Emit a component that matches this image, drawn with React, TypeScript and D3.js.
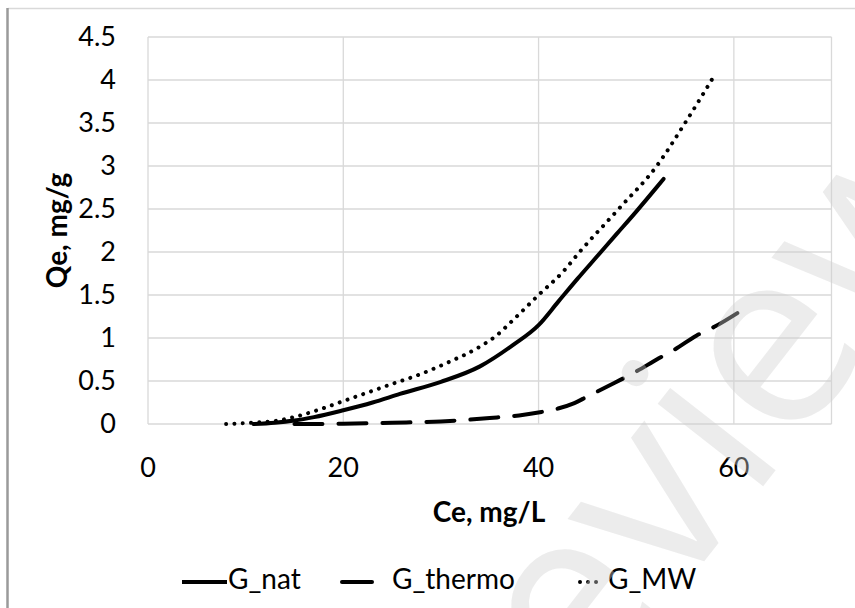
import React from 'react';
import * as d3 from 'd3';

const xTicks = [0, 20, 40, 60];
const yTicks = [0, 0.5, 1, 1.5, 2, 2.5, 3, 3.5, 4, 4.5];

const natX = [10.8, 13, 15, 17, 20, 23, 25.8, 30, 34, 37.4, 40, 42, 44, 46, 48, 50, 52, 52.8];
const natY = [0, 0.015, 0.04, 0.08, 0.16, 0.25, 0.35, 0.49, 0.67, 0.92, 1.15, 1.42, 1.69, 1.95, 2.21, 2.47, 2.74, 2.85];

const thermoX = [15, 20, 25, 30, 35, 38, 40.3, 42, 43.6, 45, 47.8, 50, 52.1, 54, 56.2, 58, 60.5];
const thermoY = [0, 0.003, 0.015, 0.03, 0.07, 0.1, 0.14, 0.18, 0.24, 0.32, 0.48, 0.61, 0.75, 0.87, 1.03, 1.13, 1.3];

const mwX = [8, 10.7, 13.3, 15.1, 17.6, 20.1, 22.6, 25.1, 27.2, 30.6, 34, 35.7, 37.4, 40, 42.5, 44.2, 48.2, 52.1, 55, 58.1];
const mwY = [0, 0.015, 0.04, 0.085, 0.17, 0.27, 0.37, 0.47, 0.55, 0.71, 0.9, 1.03, 1.21, 1.5, 1.77, 2.0, 2.5, 3.0, 3.5, 4.07];

const seriesNames = ['G_nat', 'G_thermo', 'G_MW'];

const W = 855;
const H = 608;
const FONT = 'Lato, "Open Sans", sans-serif';

export default function App() {
  const x = d3.scaleLinear().domain([0, 70]).range([148, 831.5]);
  const y = d3.scaleLinear().domain([0, 4.5]).range([424, 37]);
  const line = d3
    .line<[number, number]>()
    .x((d) => x(d[0]))
    .y((d) => y(d[1]))
    .curve(d3.curveMonotoneX);

  const zip = (a: number[], b: number[]) => a.map((v, i) => [v, b[i]] as [number, number]);

  const styles = [
    { dash: undefined as string | undefined, width: 4, cap: 'round' },
    { dash: '28 16', width: 4, cap: 'round' },
    { dash: '0.01 8.3', width: 4, cap: 'round' },
  ];
  const data = [zip(natX, natY), zip(thermoX, thermoY), zip(mwX, mwY)];

  const legend = [
    { x1: 182, x2: 227, tx: 228, dash: undefined as string | undefined },
    { x1: 342, x2: 372, tx: 392, dash: undefined },
    { x1: 580, x2: 603, tx: 608, dash: '0.01 8' },
  ];

  return (
    <svg
      width={W}
      height={H}
      style={{ position: 'absolute', left: 0, top: 0, background: '#fff' }}
      fontFamily={FONT}
    >
      <rect x={0} y={0} width={W} height={H} fill="#fff" />
      {/* frame */}
      <line x1={8} x2={W} y1={8.5} y2={8.5} stroke="#d9d9d9" strokeWidth={1.5} />
      <line x1={7.5} x2={7.5} y1={8} y2={H} stroke="#9a9a9a" strokeWidth={2.5} />

      {/* gridlines */}
      {yTicks.map((t) => (
        <line key={'gy' + t} x1={x(0)} x2={x(70)} y1={y(t)} y2={y(t)} stroke="#d9d9d9" strokeWidth={1.3} />
      ))}
      {[...xTicks, 70].map((t) => (
        <line key={'gx' + t} x1={x(t)} x2={x(t)} y1={y(0)} y2={y(4.5)} stroke="#d9d9d9" strokeWidth={1.3} />
      ))}

      {/* tick labels */}
      {yTicks.map((t) => (
        <text key={'ty' + t} x={116} y={y(t) + 9} textAnchor="end" fontSize={27} fill="#000">
          {String(t)}
        </text>
      ))}
      {xTicks.map((t) => (
        <text key={'tx' + t} x={x(t)} y={477} textAnchor="middle" fontSize={27} fill="#000">
          {String(t)}
        </text>
      ))}

      {/* axis titles */}
      <text x={489} y={522} textAnchor="middle" fontSize={28} fontWeight="bold" fill="#000">
        Ce, mg/L
      </text>
      <text
        transform={`translate(67, ${(y(0) + y(4.5)) / 2}) rotate(-90)`}
        textAnchor="middle"
        fontSize={28}
        fontWeight="bold"
        fill="#000"
      >
        Qe, mg/g
      </text>

      {/* series */}
      {data.map((d, i) => (
        <path
          key={'s' + i}
          d={line(d) || ''}
          fill="none"
          stroke="#000"
          strokeWidth={styles[i].width}
          strokeDasharray={styles[i].dash}
          strokeLinecap={styles[i].cap as any}
          strokeLinejoin="round"
        />
      ))}

      {/* legend */}
      {seriesNames.map((n, i) => (
        <g key={'lg' + i}>
          <line
            x1={legend[i].x1}
            x2={legend[i].x2}
            y1={582}
            y2={582}
            stroke="#000"
            strokeWidth={styles[i].width}
            strokeDasharray={legend[i].dash}
            strokeLinecap={i === 0 ? 'butt' : 'round'}
          />
          <text x={legend[i].tx} y={589} fontSize={28} fill="#000">
            {n}
          </text>
        </g>
      ))}

      {/* watermark */}
      <text
        transform="translate(700, 445) rotate(-52)"
        textAnchor="middle"
        dy="0.3em"
        fontSize={250}
        fontFamily='"Open Sans", sans-serif'
        fill="#cfcfcf"
        fillOpacity={0.4}
      >
        review
      </text>
    </svg>
  );
}
